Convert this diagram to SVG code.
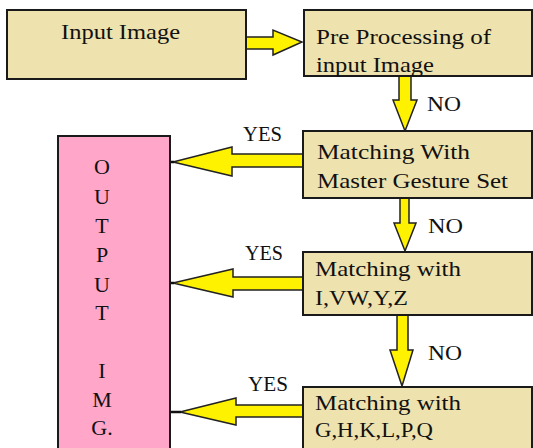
<svg xmlns="http://www.w3.org/2000/svg" width="533" height="448" viewBox="0 0 533 448">
<style>
.box{fill:#EEE2AE;stroke:#1a1a1a;stroke-width:2}
.out{fill:#FFA6C9;stroke:#1a1a1a;stroke-width:2}
.arr{fill:#FFF200;stroke:#222;stroke-width:1.5;stroke-linejoin:miter}
.stub{stroke:#111;stroke-width:2.5}
text{font-family:"Liberation Serif","Times New Roman",serif;font-size:22px;fill:#111}
.lbl{font-size:22px}
.ol{text-anchor:middle}
</style>
<rect width="533" height="448" fill="#fff"/>
<g id="connectors">
  <path class="arr" d="M246,37 H273 V30 L302,42 L273,55 V49 H246 Z"/>
  <path class="arr" d="M399,76 H411 V100 H417 L405,131 L393,100 H399 Z"/>
  <path class="arr" d="M400,198 H409 V223 H416 L405,251 L394,223 H400 Z"/>
  <path class="arr" d="M397,315 H408 V350 H413 L402,386 L390,350 H397 Z"/>
  <path class="arr" d="M303,154 H232 V147 L173,162 L232,176 V167 H303 Z"/>
  <path class="arr" d="M303,277 H233 V269 L173,283 L233,297 V290 H303 Z"/>
  <path class="arr" d="M303,405 H236 V398 L180,412 L236,425 V417 H303 Z"/>
  <line class="stub" x1="166" y1="162" x2="174" y2="162"/>
  <line class="stub" x1="165" y1="283" x2="174" y2="283"/>
  <line class="stub" x1="171" y1="412" x2="181" y2="412"/>
  <text class="lbl" x="243" y="141" textLength="39" lengthAdjust="spacingAndGlyphs">YES</text>
  <text class="lbl" x="245" y="260" textLength="38" lengthAdjust="spacingAndGlyphs">YES</text>
  <text class="lbl" x="248" y="391" textLength="40" lengthAdjust="spacingAndGlyphs">YES</text>
  <text class="lbl" x="427" y="111" textLength="34" lengthAdjust="spacingAndGlyphs">NO</text>
  <text class="lbl" x="428" y="233" textLength="35" lengthAdjust="spacingAndGlyphs">NO</text>
  <text class="lbl" x="428" y="360" textLength="34" lengthAdjust="spacingAndGlyphs">NO</text>
</g>
<g id="input">
  <rect class="box" x="7" y="10" width="239" height="69"/>
  <text x="61" y="39" textLength="119" lengthAdjust="spacingAndGlyphs">Input Image</text>
</g>
<g id="preprocess">
  <rect class="box" x="304" y="10" width="228" height="66"/>
  <text x="316" y="44" textLength="175" lengthAdjust="spacingAndGlyphs">Pre Processing of</text>
  <text x="316" y="72" textLength="118" lengthAdjust="spacingAndGlyphs">input Image</text>
</g>
<g id="master">
  <rect class="box" x="303" y="131" width="229" height="67"/>
  <text x="317" y="159" textLength="153" lengthAdjust="spacingAndGlyphs">Matching With</text>
  <text x="317" y="188" textLength="191" lengthAdjust="spacingAndGlyphs">Master Gesture Set</text>
</g>
<g id="ivwyz">
  <rect class="box" x="303" y="252" width="229" height="63"/>
  <text x="315" y="276" textLength="146" lengthAdjust="spacingAndGlyphs">Matching with</text>
  <text x="315" y="305" textLength="93" lengthAdjust="spacingAndGlyphs">I,VW,Y,Z</text>
</g>
<g id="ghklpq">
  <rect class="box" x="303" y="387" width="229" height="70"/>
  <text x="315" y="410" textLength="146" lengthAdjust="spacingAndGlyphs">Matching with</text>
  <text x="315" y="437" textLength="118" lengthAdjust="spacingAndGlyphs">G,H,K,L,P,Q</text>
</g>
<g id="output">
  <rect class="out" x="58" y="136" width="112" height="320"/>
  <text class="ol" x="102" y="174">O</text>
  <text class="ol" x="102" y="204">U</text>
  <text class="ol" x="102" y="233">T</text>
  <text class="ol" x="102" y="262">P</text>
  <text class="ol" x="102" y="292">U</text>
  <text class="ol" x="102" y="320">T</text>
  <text class="ol" x="102" y="378">I</text>
  <text class="ol" x="102" y="407">M</text>
  <text class="ol" x="102" y="435">G.</text>
</g>
</svg>
